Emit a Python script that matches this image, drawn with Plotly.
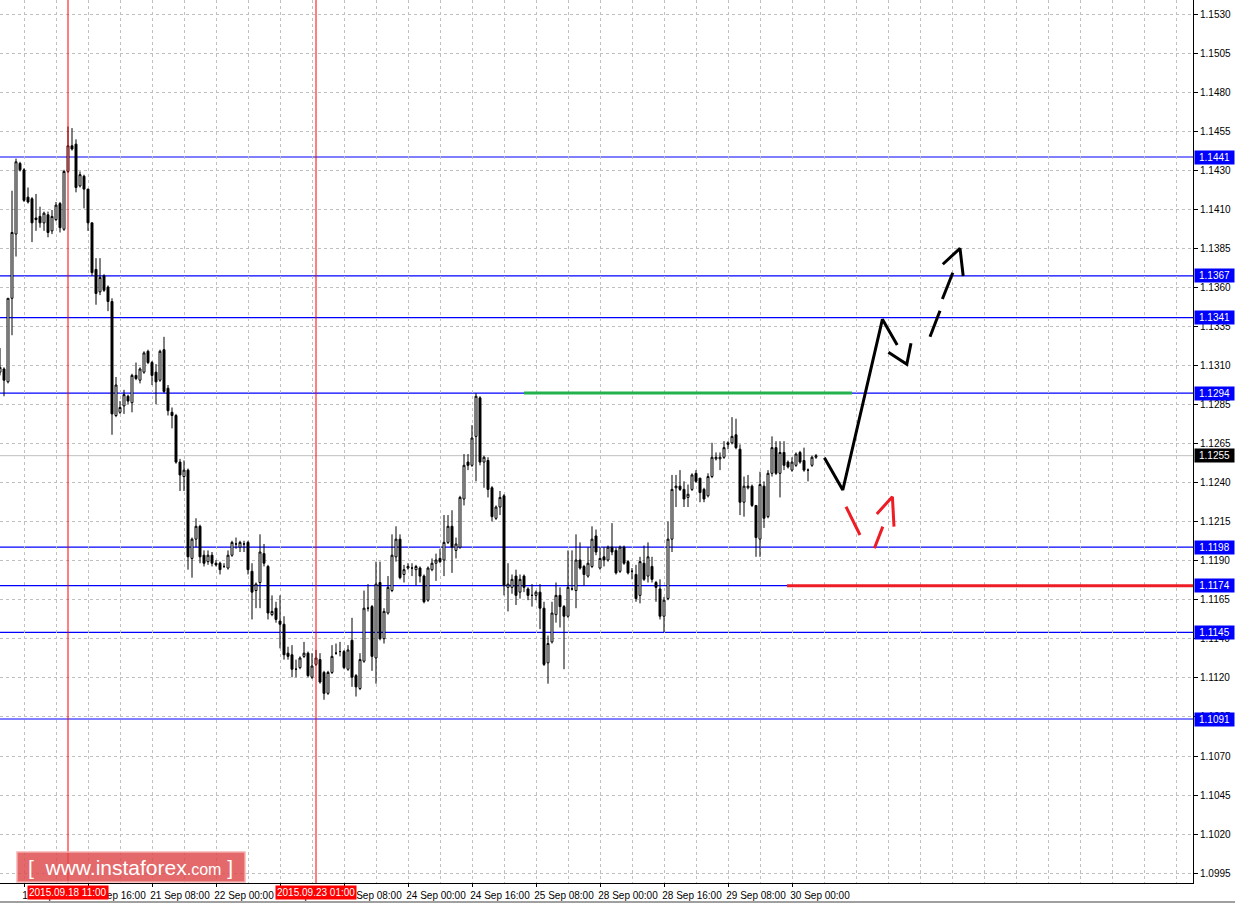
import plotly.graph_objects as go
import pandas as pd

# ---------------- data (EURUSD H1) ----------------
open_ = [1.1307, 1.1309, 1.1301, 1.1353, 1.1393, 1.1437, 1.1433, 1.1416, 1.1415, 1.1403,
         1.1404, 1.1400, 1.1405, 1.1395, 1.1402, 1.1412, 1.1396, 1.1432, 1.1448, 1.1449,
         1.1423, 1.1429, 1.1421, 1.1400, 1.1371, 1.1357, 1.1367, 1.1360, 1.1351, 1.1280,
         1.1282, 1.1286, 1.1292, 1.1288, 1.1305, 1.1302, 1.1307, 1.1320, 1.1313, 1.1307,
         1.1302, 1.1321, 1.1297, 1.1282, 1.1280, 1.1251, 1.1242, 1.1246, 1.1191, 1.1203,
         1.1211, 1.1193, 1.1189, 1.1193, 1.1188, 1.1188, 1.1186, 1.1185, 1.1193, 1.1200,
         1.1198, 1.1200, 1.1201, 1.1183, 1.1171, 1.1176, 1.1194, 1.1186, 1.1156, 1.1160,
         1.1152, 1.1150, 1.1132, 1.1131, 1.1122, 1.1123, 1.1130, 1.1132, 1.1117, 1.1125,
         1.1128, 1.1120, 1.1107, 1.1120, 1.1132, 1.1133, 1.1133, 1.1122, 1.1140, 1.1118,
         1.1110, 1.1127, 1.1160, 1.1161, 1.1129, 1.1176, 1.1141, 1.1157, 1.1171, 1.1192,
         1.1203, 1.1181, 1.1185, 1.1185, 1.1184, 1.1185, 1.1180, 1.1165, 1.1184, 1.1188,
         1.1191, 1.1190, 1.1201, 1.1211, 1.1196, 1.1198, 1.1228, 1.1251, 1.1249, 1.1267,
         1.1291, 1.1251, 1.1252, 1.1235, 1.1216, 1.1223, 1.1230, 1.1173, 1.1173, 1.1180,
         1.1170, 1.1180, 1.1172, 1.1168, 1.1168, 1.1170, 1.1160, 1.1126, 1.1139, 1.1156,
         1.1168, 1.1161, 1.1155, 1.1172, 1.1171, 1.1190, 1.1186, 1.1180, 1.1186, 1.1205,
         1.1185, 1.1192, 1.1190, 1.1198, 1.1196, 1.1183, 1.1198, 1.1189, 1.1183, 1.1181,
         1.1168, 1.1188, 1.1180, 1.1186, 1.1176, 1.1172, 1.1155, 1.1166, 1.1203, 1.1235,
         1.1236, 1.1234, 1.1229, 1.1234, 1.1244, 1.1241, 1.1234, 1.1230, 1.1242, 1.1253,
         1.1253, 1.1254, 1.1262, 1.1263, 1.1268, 1.1259, 1.1226, 1.1235, 1.1236, 1.1224,
         1.1203, 1.1236, 1.1217, 1.1244, 1.1260, 1.1244, 1.1257, 1.1251, 1.1246, 1.1249,
         1.1257, 1.1252, 1.1246, 1.1249, 1.1254]
high = [1.1322, 1.1310, 1.1353, 1.1420, 1.1440, 1.1438, 1.1434, 1.1422, 1.1416, 1.1418,
        1.1410, 1.1407, 1.1407, 1.1408, 1.1413, 1.1413, 1.1433, 1.1460, 1.1459, 1.1452,
        1.1432, 1.1430, 1.1421, 1.1400, 1.1378, 1.1378, 1.1368, 1.1361, 1.1353, 1.1304,
        1.1289, 1.1296, 1.1293, 1.1306, 1.1313, 1.1310, 1.1320, 1.1321, 1.1314, 1.1312,
        1.1321, 1.1329, 1.1299, 1.1285, 1.1281, 1.1253, 1.1252, 1.1247, 1.1204, 1.1216,
        1.1212, 1.1196, 1.1196, 1.1195, 1.1190, 1.1189, 1.1188, 1.1196, 1.1202, 1.1204,
        1.1202, 1.1202, 1.1202, 1.1188, 1.1176, 1.1206, 1.1200, 1.1187, 1.1168, 1.1164,
        1.1168, 1.1155, 1.1136, 1.1137, 1.1128, 1.1130, 1.1139, 1.1133, 1.1132, 1.1134,
        1.1132, 1.1121, 1.1121, 1.1137, 1.1138, 1.1139, 1.1134, 1.1137, 1.1154, 1.1119,
        1.1132, 1.1171, 1.1175, 1.1162, 1.1189, 1.1189, 1.1160, 1.1180, 1.1206, 1.1211,
        1.1206, 1.1187, 1.1188, 1.1188, 1.1187, 1.1186, 1.1181, 1.1186, 1.1191, 1.1194,
        1.1197, 1.1218, 1.1218, 1.1221, 1.1204, 1.1230, 1.1256, 1.1256, 1.1274, 1.1294,
        1.1292, 1.1255, 1.1254, 1.1236, 1.1224, 1.1233, 1.1231, 1.1188, 1.1181, 1.1184,
        1.1181, 1.1181, 1.1173, 1.1175, 1.1171, 1.1175, 1.1164, 1.1143, 1.1164, 1.1176,
        1.1173, 1.1162, 1.1196, 1.1196, 1.1206, 1.1201, 1.1187, 1.1198, 1.1211, 1.1209,
        1.1198, 1.1198, 1.1199, 1.1213, 1.1198, 1.1199, 1.1199, 1.1190, 1.1185, 1.1187,
        1.1192, 1.1199, 1.1201, 1.1192, 1.1177, 1.1178, 1.1167, 1.1214, 1.1243, 1.1243,
        1.1246, 1.1239, 1.1237, 1.1244, 1.1246, 1.1241, 1.1235, 1.1244, 1.1263, 1.1257,
        1.1257, 1.1264, 1.1264, 1.1279, 1.1278, 1.1262, 1.1242, 1.1243, 1.1237, 1.1224,
        1.1245, 1.1239, 1.1246, 1.1267, 1.1264, 1.1264, 1.1264, 1.1252, 1.1254, 1.1257,
        1.1258, 1.1260, 1.1247, 1.1255, 1.1256]
low = [1.1305, 1.1292, 1.1300, 1.1330, 1.1379, 1.1432, 1.1413, 1.1412, 1.1388, 1.1395,
       1.1397, 1.1395, 1.1391, 1.1393, 1.1401, 1.1394, 1.1395, 1.1431, 1.1445, 1.1419,
       1.1422, 1.1409, 1.1395, 1.1367, 1.1349, 1.1355, 1.1357, 1.1345, 1.1268, 1.1279,
       1.1281, 1.1281, 1.1287, 1.1282, 1.1302, 1.1300, 1.1306, 1.1312, 1.1299, 1.1287,
       1.1301, 1.1294, 1.1280, 1.1272, 1.1250, 1.1233, 1.1233, 1.1184, 1.1179, 1.1198,
       1.1188, 1.1186, 1.1187, 1.1186, 1.1186, 1.1181, 1.1185, 1.1184, 1.1192, 1.1197,
       1.1195, 1.1195, 1.1181, 1.1153, 1.1160, 1.1160, 1.1186, 1.1153, 1.1155, 1.1151,
       1.1135, 1.1128, 1.1128, 1.1117, 1.1117, 1.1122, 1.1129, 1.1117, 1.1116, 1.1124,
       1.1113, 1.1103, 1.1106, 1.1119, 1.1131, 1.1130, 1.1122, 1.1121, 1.1111, 1.1105,
       1.1109, 1.1126, 1.1158, 1.1121, 1.1113, 1.1140, 1.1138, 1.1156, 1.1170, 1.1189,
       1.1178, 1.1176, 1.1184, 1.1180, 1.1174, 1.1176, 1.1163, 1.1164, 1.1183, 1.1177,
       1.1188, 1.1180, 1.1200, 1.1182, 1.1191, 1.1197, 1.1224, 1.1246, 1.1248, 1.1239,
       1.1249, 1.1235, 1.1229, 1.1214, 1.1215, 1.1218, 1.1168, 1.1158, 1.1169, 1.1162,
       1.1166, 1.1170, 1.1165, 1.1161, 1.1165, 1.1147, 1.1124, 1.1113, 1.1138, 1.1151,
       1.1148, 1.1122, 1.1154, 1.1171, 1.1160, 1.1184, 1.1174, 1.1179, 1.1185, 1.1193,
       1.1184, 1.1186, 1.1189, 1.1193, 1.1181, 1.1182, 1.1187, 1.1181, 1.1178, 1.1164,
       1.1163, 1.1177, 1.1176, 1.1176, 1.1164, 1.1153, 1.1145, 1.1165, 1.1195, 1.1223,
       1.1233, 1.1223, 1.1223, 1.1233, 1.1238, 1.1226, 1.1226, 1.1229, 1.1241, 1.1252,
       1.1246, 1.1253, 1.1259, 1.1262, 1.1259, 1.1218, 1.1217, 1.1234, 1.1223, 1.1192,
       1.1192, 1.1210, 1.1216, 1.1242, 1.1243, 1.1229, 1.1246, 1.1247, 1.1245, 1.1248,
       1.1250, 1.1245, 1.1239, 1.1248, 1.1253]
close = [1.1310, 1.1302, 1.1353, 1.1394, 1.1438, 1.1433, 1.1414, 1.1413, 1.1400, 1.1402,
         1.1400, 1.1406, 1.1394, 1.1404, 1.1411, 1.1397, 1.1432, 1.1448, 1.1446, 1.1422,
         1.1430, 1.1421, 1.1400, 1.1369, 1.1356, 1.1366, 1.1358, 1.1351, 1.1281, 1.1299,
         1.1285, 1.1293, 1.1289, 1.1305, 1.1303, 1.1309, 1.1319, 1.1313, 1.1305, 1.1301,
         1.1320, 1.1295, 1.1283, 1.1280, 1.1251, 1.1243, 1.1246, 1.1192, 1.1203, 1.1211,
         1.1192, 1.1188, 1.1193, 1.1188, 1.1187, 1.1184, 1.1186, 1.1193, 1.1201, 1.1200,
         1.1201, 1.1200, 1.1184, 1.1170, 1.1175, 1.1195, 1.1188, 1.1157, 1.1158, 1.1153,
         1.1150, 1.1131, 1.1130, 1.1122, 1.1122, 1.1129, 1.1132, 1.1118, 1.1124, 1.1129,
         1.1114, 1.1107, 1.1120, 1.1130, 1.1132, 1.1133, 1.1123, 1.1134, 1.1117, 1.1111,
         1.1128, 1.1160, 1.1160, 1.1130, 1.1175, 1.1141, 1.1158, 1.1173, 1.1193, 1.1203,
         1.1179, 1.1184, 1.1186, 1.1185, 1.1186, 1.1180, 1.1164, 1.1185, 1.1188, 1.1190,
         1.1189, 1.1201, 1.1211, 1.1198, 1.1200, 1.1229, 1.1249, 1.1249, 1.1266, 1.1292,
         1.1251, 1.1254, 1.1234, 1.1217, 1.1223, 1.1229, 1.1174, 1.1175, 1.1178, 1.1168,
         1.1178, 1.1173, 1.1168, 1.1168, 1.1170, 1.1160, 1.1125, 1.1138, 1.1157, 1.1168,
         1.1161, 1.1155, 1.1173, 1.1172, 1.1190, 1.1185, 1.1181, 1.1188, 1.1203, 1.1195,
         1.1191, 1.1190, 1.1198, 1.1195, 1.1182, 1.1198, 1.1188, 1.1182, 1.1183, 1.1166,
         1.1189, 1.1178, 1.1192, 1.1178, 1.1173, 1.1155, 1.1165, 1.1203, 1.1234, 1.1236,
         1.1234, 1.1228, 1.1231, 1.1243, 1.1239, 1.1232, 1.1228, 1.1242, 1.1254, 1.1254,
         1.1254, 1.1260, 1.1263, 1.1267, 1.1260, 1.1226, 1.1236, 1.1236, 1.1224, 1.1204,
         1.1237, 1.1216, 1.1244, 1.1260, 1.1244, 1.1257, 1.1249, 1.1248, 1.1251, 1.1256,
         1.1251, 1.1246, 1.1246, 1.1254, 1.1255]

first_bar_time = "2015-09-17 18:00"

price_tick_labels = ["1.1530", "1.1505", "1.1480", "1.1455", "1.1430", "1.1410", "1.1385",
                     "1.1360", "1.1335", "1.1310", "1.1285", "1.1265", "1.1240", "1.1215",
                     "1.1190", "1.1165", "1.1140", "1.1120", "1.1095", "1.1070", "1.1045",
                     "1.1020", "1.0995"]
time_tick_labels = ["2015-09-18 00:00", "2015-09-18 16:00", "2015-09-21 08:00",
                    "2015-09-22 00:00", "2015-09-22 16:00", "2015-09-23 08:00",
                    "2015-09-24 00:00", "2015-09-24 16:00", "2015-09-25 08:00",
                    "2015-09-28 00:00", "2015-09-28 16:00", "2015-09-29 08:00",
                    "2015-09-30 00:00"]

levels = [1.1441, 1.1367, 1.1341, 1.1294, 1.1198, 1.1174, 1.1145, 1.1091]
bid_price = 1.1255
vline_times = ["2015-09-18 11:00", "2015-09-23 01:00"]

# drawn objects (bar index, price)
green_x = [131, 213]
green_y = [1.1294, 1.1294]
red_level_x = [196.75, 298.25]
red_level_y = [1.1174, 1.1174]
black_x = [206.1, 210.7, 220.6, 224.3, None, 222.1, 226.7, 227.75, None,
           232.5, 235.0, None, 235.6, 238.2, None, 235.7, 240.0, 240.8]
black_y = [1.12537, 1.12336, 1.13399, 1.13239, None, 1.13194, 1.13119, 1.13250, None,
           1.13291, 1.13453, None, 1.13526, 1.13689, None, 1.13742, 1.13841, 1.13669]
red_x = [211.5, 215.0, None, 218.6, 220.7, None, 219.2, 223.1, 223.5]
red_y = [1.12232, 1.12056, None, 1.11973, 1.12108, None, 1.12187, 1.12294, 1.12108]

# ---------------- build ----------------
n = len(close)
hours = pd.date_range(first_bar_time, periods=24 * 20, freq="h")
bar_times = hours[hours.dayofweek < 5][:n]
bar_idx = list(range(n))
time_pos = {t: i for i, t in enumerate(bar_times)}

W, H = 1235, 904
ML, MR, MT, MB = 0, 42, 0, 21
plot_w = W - ML - MR
plot_h = H - MT - MB
px_per_bar = 4.0
x_range = [0, plot_w / px_per_bar]
y_range = [1.098886, 1.153878]

tick_pos = [time_pos[pd.Timestamp(t)] for t in time_tick_labels]
tick_txt = [pd.Timestamp(t).strftime("%d %b %H:%M") for t in time_tick_labels]
grid_pos = list(range(tick_pos[0], int(x_range[1]) + 1, (tick_pos[1] - tick_pos[0]) // 2))

ytop = float(price_tick_labels[0])
ybot = float(price_tick_labels[-1])
nt = len(price_tick_labels)
ytick_vals = [ytop - k * (ytop - ybot) / (nt - 1) for k in range(nt)]

GRID = "#c0c0c0"
DASH = "3px,3px"
FONT = "Liberation Sans, Arial, sans-serif"

fig = go.Figure()
fig.add_trace(go.Candlestick(
    x=bar_idx, open=open_, high=high, low=low, close=close,
    increasing=dict(line=dict(color="black", width=1), fillcolor="white"),
    decreasing=dict(line=dict(color="black", width=1), fillcolor="black"),
    whiskerwidth=0, hoverinfo="skip", showlegend=False))

fig.add_trace(go.Scatter(x=green_x, y=green_y, mode="lines",
                         line=dict(color="#22b14c", width=3), hoverinfo="skip", showlegend=False))
fig.add_trace(go.Scatter(x=red_level_x, y=red_level_y, mode="lines",
                         line=dict(color="#ee1c24", width=3), hoverinfo="skip", showlegend=False,
                         cliponaxis=False))
fig.add_trace(go.Scatter(x=black_x, y=black_y, mode="lines", connectgaps=False,
                         line=dict(color="black", width=3), hoverinfo="skip", showlegend=False))
fig.add_trace(go.Scatter(x=red_x, y=red_y, mode="lines", connectgaps=False,
                         line=dict(color="#ee1c24", width=3), hoverinfo="skip", showlegend=False))

shapes = []
annotations = []
# bid line
shapes.append(dict(type="line", xref="paper", x0=0, x1=1, yref="y", y0=bid_price, y1=bid_price,
                   line=dict(color="#c0c0c0", width=1), layer="below"))
# level lines
for lv in levels:
    shapes.append(dict(type="line", xref="paper", x0=0, x1=1, yref="y", y0=lv, y1=lv,
                       line=dict(color="#0000ff", width=1.2), layer="below"))
    annotations.append(dict(x=1, xref="paper", xanchor="left", xshift=1, y=lv, yref="y",
                            yanchor="middle", text=f"{lv:.4f}", showarrow=False,
                            font=dict(family=FONT, size=10, color="white"),
                            bgcolor="#0000ff", borderpad=1, width=37, height=11, align="center"))
annotations.append(dict(x=1, xref="paper", xanchor="left", xshift=1, y=bid_price, yref="y",
                        yanchor="middle", text=f"{bid_price:.4f}", showarrow=False,
                        font=dict(family=FONT, size=10, color="white"),
                        bgcolor="black", borderpad=1, width=37, height=11, align="center"))
# vertical red lines
for vt in vline_times:
    ts = pd.Timestamp(vt)
    xi = time_pos[ts]
    shapes.append(dict(type="line", xref="x", x0=xi, x1=xi, yref="paper", y0=0, y1=1,
                       line=dict(color="#ff0000", width=1)))
    annotations.append(dict(x=xi, xref="x", xanchor="center", y=-9 / plot_h, yref="paper",
                            yanchor="middle", text=ts.strftime("%Y.%m.%d %H:%M"), showarrow=False,
                            font=dict(family=FONT, size=10, color="white"),
                            bgcolor="#ff0000", borderpad=1))
# window bottom border
shapes.append(dict(type="line", xref="paper", x0=0, x1=W / plot_w, yref="paper",
                   y0=-(902 - plot_h) / plot_h, y1=-(902 - plot_h) / plot_h,
                   line=dict(color="#404040", width=1)))
# watermark
shapes.append(dict(type="rect", xref="paper", yref="paper",
                   x0=17 / plot_w, x1=245 / plot_w, y0=1 / plot_h, y1=31 / plot_h,
                   fillcolor="rgba(222,72,74,0.82)", line=dict(color="rgba(245,175,175,0.95)", width=1.5)))
annotations.append(dict(x=130 / plot_w, xref="paper", y=16 / plot_h, yref="paper",
                        xanchor="center", yanchor="middle", showarrow=False,
                        text="[  www.instaforex<span style='font-size:16px'>.com</span> ]",
                        font=dict(family=FONT, size=21, color="white")))

fig.update_layout(
    width=W, height=H, margin=dict(l=ML, r=MR, t=MT, b=MB, pad=0),
    paper_bgcolor="white", plot_bgcolor="white",
    font=dict(family=FONT, size=10, color="black"),
    showlegend=False, hovermode=False,
    shapes=shapes, annotations=annotations,
    xaxis=dict(range=x_range, rangeslider=dict(visible=False), tickmode="array",
               tickvals=tick_pos, ticktext=tick_txt, ticks="outside", ticklen=3,
               tickcolor="black", ticklabelshift=28, showline=True, linecolor="black",
               linewidth=1, showgrid=True, gridcolor=GRID, griddash=DASH, gridwidth=1,
               zeroline=False, fixedrange=True,
               minor=dict(tickvals=grid_pos, showgrid=True, gridcolor=GRID, griddash=DASH,
                          gridwidth=1, ticks="")),
    yaxis=dict(range=y_range, side="right", tickmode="array", tickvals=ytick_vals,
               ticktext=price_tick_labels, ticks="outside", ticklen=4, tickcolor="black",
               showline=True, linecolor="black", linewidth=1, showgrid=True,
               gridcolor=GRID, griddash=DASH, gridwidth=1, zeroline=False, fixedrange=True),
)

fig.write_html("out.html", config={"displayModeBar": False},
               post_script="document.body.style.margin='0px';document.body.style.overflow='hidden';")
